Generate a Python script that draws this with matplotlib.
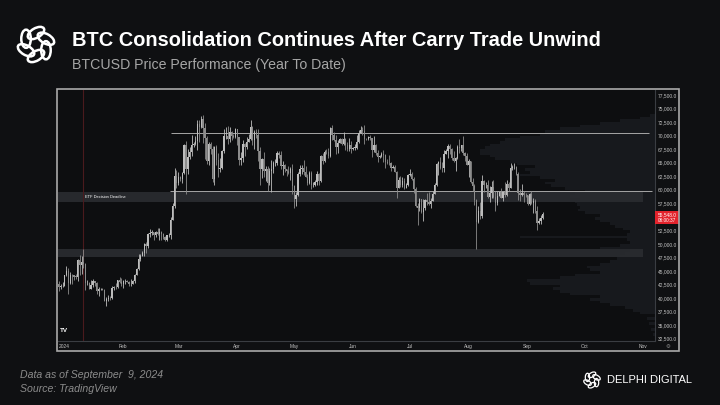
import numpy as np
import pandas as pd
import matplotlib
matplotlib.use("Agg")
import matplotlib.pyplot as plt
import matplotlib.dates as mdates
from matplotlib.patches import Rectangle, Ellipse

plt.rcParams["font.family"] = ["Liberation Sans", "DejaVu Sans"]

# ---- data (daily BTCUSD candles) ----
start_date = "2023-12-29"
first_open = 42600

closes = [
    42100, 42150, 42280,
    # Jan
    44180, 44950, 42850, 44180, 44170, 43970, 43930, 46970, 46120, 46660,
    46340, 42780, 42850, 41730, 42500, 43150, 42750, 41260, 41620, 41660,
    41570, 39520, 39880, 40080, 39950, 41820, 42120, 42030, 43300, 42950, 42580,
    # Feb
    43080, 43200, 43000, 42580, 42660, 43090, 44340, 45290, 47150, 47770,
    48300, 49950, 49700, 51800, 51950, 52150, 51650, 52150, 51800, 52250,
    51880, 51300, 50720, 51580, 51730, 54500, 57050, 62500, 61200,
    # Mar
    62440, 62030, 63150, 68300, 63800, 66100, 66900, 68300, 68500, 68950,
    72100, 71500, 73100, 71400, 69500, 65300, 68400, 67600, 61900, 67900,
    65500, 63800, 64100, 67200, 69950, 69980, 69450, 70750, 69900, 69650, 71300,
    # Apr
    69700, 65450, 65950, 68500, 67850, 68900, 69350, 71650, 69100, 70600,
    70050, 67100, 63900, 65700, 63450, 63800, 61300, 63500, 63850, 64950,
    64950, 66850, 66400, 64300, 64500, 63750, 63450, 63100, 63850, 60650,
    # May
    58300, 59100, 62900, 63900, 64050, 63200, 62350, 61200, 63100, 60800,
    60850, 61500, 62900, 61550, 66250, 65250, 67050, 66950, 66250, 71450,
    70100, 69150, 67950, 68550, 69300, 68500, 69450, 68350, 67600, 68350, 67500,
    # Jun
    67750, 67750, 68800, 70550, 71100, 70800, 69350, 69300, 69650, 69500,
    67300, 68250, 66750, 66000, 66200, 66650, 66500, 65150, 64950, 64850,
    64100, 64250, 63200, 60300, 61800, 60850, 61600, 60350, 60850, 62700,
    # Jul
    62850, 62050, 60200, 57050, 56650, 58200, 55850, 56700, 58050, 57750,
    57350, 57900, 59200, 60800, 64750, 65050, 64100, 63950, 66650, 67150,
    68150, 67550, 65950, 65350, 65800, 67900, 67800, 68250, 66750, 66200, 64600,
    # Aug
    65350, 61400, 60650, 58150, 54000, 56050, 55100, 61700, 60850, 60900,
    58700, 59350, 60600, 58750, 57550, 58900, 59500, 58450, 59500, 59050,
    61150, 60400, 64100, 64200, 64200, 62900, 59450, 59000, 59400, 59100, 58950,
    # Sep
    57300, 59150, 57500, 57950, 56150, 53950, 54150, 54850, 55548,
]

highs = [
    43100, 42600, 42900,
    44200, 45900, 45500, 44750, 44350, 44200, 44500, 47250, 47900, 47700,
    49000, 46500, 43250, 43050, 43350, 43550, 43200, 42900, 42100, 41850,
    41850, 41650, 40150, 40500, 40300, 42200, 42200, 42800, 43300, 43850, 43750,
    43250, 43500, 43400, 43100, 43500, 43400, 44500, 45600, 48200, 48150,
    48600, 50200, 50350, 52000, 52800, 52550, 52150, 52350, 52950, 52950,
    52400, 52000, 51500, 51700, 51950, 54900, 57550, 64000, 63700,
    63200, 62450, 63250, 68500, 69000, 67600, 67900, 70150, 68800, 70000,
    72800, 72900, 73650, 73800, 72400, 70000, 68800, 68900, 68100, 68000,
    68200, 66700, 65900, 67400, 71300, 71500, 71700, 71500, 70900, 70300, 71350,
    71250, 69700, 66900, 69250, 68700, 69700, 70300, 72800, 71750, 71100,
    71250, 71200, 67900, 65900, 66900, 64350, 64450, 64100, 65500, 65400,
    65700, 67200, 67200, 67100, 65250, 64800, 63900, 64300, 64200, 64700,
    60800, 59600, 63300, 64500, 64600, 65500, 64400, 62950, 63400, 63450,
    61400, 61800, 63400, 63100, 66400, 66700, 67400, 67450, 67650, 71500,
    71900, 70600, 70050, 69200, 69500, 69500, 70600, 69550, 68900, 69500, 69000,
    67850, 68400, 70200, 71050, 71750, 71600, 71950, 69550, 69900, 70150,
    69550, 69950, 68450, 67300, 66450, 66950, 67250, 66550, 65750, 66500,
    65050, 64550, 64550, 63400, 62300, 62450, 62300, 62200, 61200, 63000,
    63800, 63250, 62300, 60450, 57550, 58450, 58300, 58200, 58300, 59400,
    59500, 58500, 59800, 61300, 64850, 65350, 66100, 65100, 67400, 67600,
    68400, 68500, 67800, 67100, 66100, 68200, 69350, 68300, 70000, 66950, 66800,
    65600, 65000, 62200, 61100, 58300, 57000, 57700, 62700, 61750, 61450,
    61850, 60700, 61550, 61800, 59850, 59800, 59650, 60250, 59600, 61400,
    61800, 61400, 64950, 64500, 65000, 64450, 63200, 60200, 61150, 59850, 59450,
    59000, 59400, 59800, 58500, 58300, 56950, 54850, 55300, 55800,
]

lows = [
    41300, 41600, 41970,
    42200, 44100, 40800, 42600, 42600, 43400, 43600, 43200, 44300, 44400,
    45600, 41500, 42450, 41700, 41700, 42050, 42200, 40700, 40300, 41450,
    41450, 39450, 38550, 39500, 39550, 39850, 41400, 41650, 41800, 42700, 42300,
    41900, 42600, 42900, 42250, 42300, 42600, 42700, 44300, 45250, 46800,
    47700, 47700, 48350, 49300, 51300, 51600, 50650, 51200, 51700, 50650,
    50650, 50950, 50520, 50580, 51300, 50900, 54450, 56700, 60400,
    60800, 61600, 61300, 62900, 59200, 62900, 65600, 66200, 67900, 68250,
    67400, 68800, 71350, 68600, 65600, 64800, 64600, 66600, 61500, 60800,
    64600, 62300, 63300, 63800, 66800, 69300, 68400, 68900, 69100, 69500, 69600,
    68300, 64600, 64500, 65100, 66300, 67500, 68900, 69100, 68300, 67500,
    69600, 65300, 60900, 62200, 62300, 61700, 59800, 60800, 59600, 63100,
    64300, 64500, 65850, 63800, 62800, 63300, 62550, 62850, 61800, 59150,
    56550, 56950, 58900, 62600, 62950, 62800, 62300, 60900, 61000, 60200,
    60500, 60650, 60800, 60900, 61400, 64700, 65100, 66650, 65900, 66100,
    69200, 68950, 66600, 66700, 68550, 68200, 68300, 67300, 67200, 67150, 66700,
    67400, 67300, 67600, 68550, 70400, 70200, 68500, 69200, 69150, 69250,
    66100, 66900, 66350, 65100, 65900, 66100, 65100, 64100, 64700, 64600,
    63400, 63950, 63200, 58400, 60250, 60600, 60500, 60050, 60300, 60750,
    62550, 61800, 59450, 56850, 53500, 56000, 55750, 54250, 56300, 57150,
    57100, 56600, 57850, 59450, 60700, 62700, 63900, 63250, 63300, 66600,
    65800, 66600, 65500, 65150, 63450, 65750, 66700, 67100, 66500, 65350, 64500,
    62300, 61200, 59850, 57200, 49050, 53950, 54550, 54750, 59600, 60300,
    58400, 57650, 58500, 58400, 56100, 57100, 58800, 58400, 57850, 58600,
    58800, 59750, 60350, 63600, 63800, 62800, 58100, 57850, 58800, 57800, 58750,
    57200, 57200, 57450, 55650, 55650, 52550, 53750, 53650, 54600,
]

# volume profile on the right edge: bin floor price -> length in days
profile_lo = [
    33000, 34000, 35000, 36000, 37000, 37500, 38000, 38500, 39000, 39500,
    40000, 40500, 41000, 41500, 42000, 42500, 43000, 43500, 44000, 44500,
    45000, 45500, 46000, 46500, 47000, 47500, 48000, 48500, 49000, 49500,
    50000, 50500, 51000, 51500, 52000, 52500, 53000, 53500, 54000, 54500,
    55000, 55500, 56000, 56500, 57000, 57500, 58000, 58500, 59000, 59500,
    60000, 60500, 61000, 61500, 62000, 62500, 63000, 63500, 64000, 64500,
    65000, 65500, 66000, 66500, 67000, 67500, 68000, 68500, 69000, 69500,
    70000, 70500, 71000, 71500, 72000, 72500, 73000, 73500,
]
profile_len = [
    1, 2, 3, 4, 8, 11.6, 15.8, 23.7, 29, 34,
    29, 44.8, 50, 53.7, 50, 65.9, 67.4, 50, 42, 29,
    34, 35.8, 29, 23.7, 20, 18.4, 15.8, 13.2, 29, 18.4,
    13.2, 14.8, 71, 14.8, 13, 17, 21, 23.7, 29, 31.6,
    29, 36.9, 40.6, 39.5, 41, 42, 39.5, 44.8, 42, 36.9,
    47.4, 55, 58, 52.7, 60.6, 71, 65.9, 68.5, 63, 72.7,
    76.4, 84.3, 87, 92.2, 92.2, 89.6, 87, 81.7, 79, 71,
    60.6, 58, 50, 39.5, 29, 18.4, 7.9, 2.6,
]

# levels drawn on the chart
range_top = 70400
range_bottom = 59850
etf_band = (57700, 59600)
support_band = (47500, 49050)
etf_approval_date = "2024-01-11"
last_price_text = "55,548.0"
countdown_text = "08:00:37"

y_ticks = [32500, 35000, 37500, 40000, 42500, 45000, 47500, 50000, 52500,
           57500, 60000, 62500, 65000, 67500, 70000, 72500, 75000, 77500]
month_starts = ["2024-01-01", "2024-02-01", "2024-03-01", "2024-04-01",
                "2024-05-01", "2024-06-01", "2024-07-01", "2024-08-01",
                "2024-09-01", "2024-10-01", "2024-11-01"]
month_labels = ["2024", "Feb", "Mar", "Apr", "May", "Jun", "Jul", "Aug",
                "Sep", "Oct", "Nov"]

# ---- build candles ----
c = np.array(closes, dtype=float)
o = np.array([first_open] + closes[:-1], dtype=float)
h = np.maximum(np.array(highs, dtype=float), np.maximum(o, c))
l = np.minimum(np.array(lows, dtype=float), np.minimum(o, c))
dates = pd.date_range(start_date, periods=len(c), freq="D")
x = mdates.date2num(dates)
up = c >= o

BG = "#0f1012"
PLOT_BG = "#0d0e10"
UP_COL = "#bdbdbd"
DN_COL = "#8c8c8c"

fig = plt.figure(figsize=(7.2, 4.05), dpi=100, facecolor=BG)
ax = fig.add_axes([58 / 720, 1 - 341 / 405, 597 / 720, 251 / 405], facecolor=PLOT_BG)

jan1 = mdates.date2num(pd.Timestamp("2024-01-01"))
x_min, x_max = jan1 - 3.42, jan1 + 311.1
ax.set_xlim(x_min, x_max)
ax.set_ylim(32070, 78420)

# volume profile
plen = np.array(profile_len)
ax.barh(profile_lo, plen, height=500, left=x_max - plen, align="edge",
        color="#17191d", linewidth=0, zorder=1)

# shaded zones
band_end = jan1 + 304.8
for lo, hi in (etf_band, support_band):
    ax.add_patch(Rectangle((x_min, lo), band_end - x_min, hi - lo,
                           facecolor="#2b2d31", alpha=0.9, lw=0, zorder=2))
ax.text(jan1 + 10.6, sum(etf_band) / 2, "ETF Decision Deadline", fontsize=2.9,
        color="white", va="center", ha="left", zorder=6)

# range lines
ax.hlines(range_top, jan1 + 56, jan1 + 308, colors="#a6a6a6", lw=0.7, zorder=3)
ax.hlines(range_bottom, jan1 + 55.5, jan1 + 309.5, colors="#a6a6a6", lw=0.7, zorder=3)

# ETF approval marker
ax.axvline(mdates.date2num(pd.Timestamp(etf_approval_date)), color="#4a1a1d",
           lw=0.8, zorder=2)

# candles
cols = np.where(up, UP_COL, DN_COL)
ax.vlines(x, l, h, colors=cols, lw=0.6, zorder=4)
body = np.maximum(np.abs(c - o), 60)
ax.bar(x, body, bottom=np.minimum(o, c), width=0.68, color=cols, linewidth=0, zorder=5)

# axes styling
for side in ("left", "top"):
    ax.spines[side].set_visible(False)
for side in ("right", "bottom"):
    ax.spines[side].set_color("#3a3d42")
    ax.spines[side].set_linewidth(0.8)
ax.yaxis.tick_right()
ax.set_yticks(y_ticks)
ax.set_yticklabels([f"{v:,.1f}" for v in y_ticks])
ax.set_xticks(mdates.date2num(pd.to_datetime(month_starts)))
ax.set_xticklabels(month_labels)
ax.tick_params(axis="y", length=0, pad=2.3, labelsize=3.5, labelcolor="#c4c4c4")
ax.tick_params(axis="x", length=0, pad=2.2, labelsize=3.5, labelcolor="#c4c4c4")

# last price label
blend = ax.get_yaxis_transform()
ax.add_patch(Rectangle((1.0, 53750), 24 / 597, 2250, transform=blend,
                       facecolor="#e3232c", lw=0, clip_on=False, zorder=8))
ax.text(1.02, 55320, last_price_text, transform=blend, fontsize=3.4, color="white",
        ha="center", va="center", clip_on=False, zorder=9)
ax.text(1.02, 54330, countdown_text, transform=blend, fontsize=3.4, color="white",
        ha="center", va="center", clip_on=False, zorder=9)

# TradingView mark and settings glyph
ax.text(0.004, 0.03, "TV", transform=ax.transAxes, fontsize=4.5, weight="bold",
        color="white", ha="left", va="bottom")
fig.text(668 / 720, 1 - 346 / 405, "\u2699", fontsize=4, color="#8a8a8a",
         ha="center", va="center", family="DejaVu Sans")

# chart frame
fig.patches.append(Rectangle((57 / 720, 1 - 351 / 405), 622 / 720, 262 / 405,
                             transform=fig.transFigure, fill=False,
                             edgecolor="#a9a9a9", lw=1.2))

# titles and footer
fig.text(72 / 720, 1 - 46 / 405, "BTC Consolidation Continues After Carry Trade Unwind",
         fontsize=14.4, weight="bold", color="white", ha="left", va="baseline")
fig.text(72 / 720, 1 - 69 / 405, "BTCUSD Price Performance (Year To Date)",
         fontsize=10.2, color="#a6a6a6", ha="left", va="baseline")
fig.text(20 / 720, 1 - 375 / 405, "Data as of September  9, 2024", fontsize=7.6,
         style="italic", color="#8c8c8c", ha="left", va="center")
fig.text(20 / 720, 1 - 389 / 405, "Source: TradingView", fontsize=7.6,
         style="italic", color="#8c8c8c", ha="left", va="center")
fig.text(607 / 720, 1 - 380 / 405, "DELPHI DIGITAL", fontsize=8, color="white",
         ha="left", va="center")


def draw_logo(rect, lw):
    lax = fig.add_axes(rect)
    lax.set_xlim(-1.15, 1.15)
    lax.set_ylim(-1.15, 1.15)
    lax.set_aspect("equal")
    lax.axis("off")
    for k in range(6):
        t = np.deg2rad(90 + k * 60)
        lax.add_patch(Ellipse((0.6 * np.cos(t), 0.6 * np.sin(t)), 0.95, 0.5,
                              angle=np.degrees(t) + 120, fill=False,
                              edgecolor="white", lw=lw))


draw_logo([14 / 720, 1 - 67 / 405, 44 / 720, 45 / 405], 1.8)
draw_logo([582 / 720, 1 - 390 / 405, 20 / 720, 20 / 405], 0.9)

fig.savefig("out.png", dpi=100, facecolor=BG)
